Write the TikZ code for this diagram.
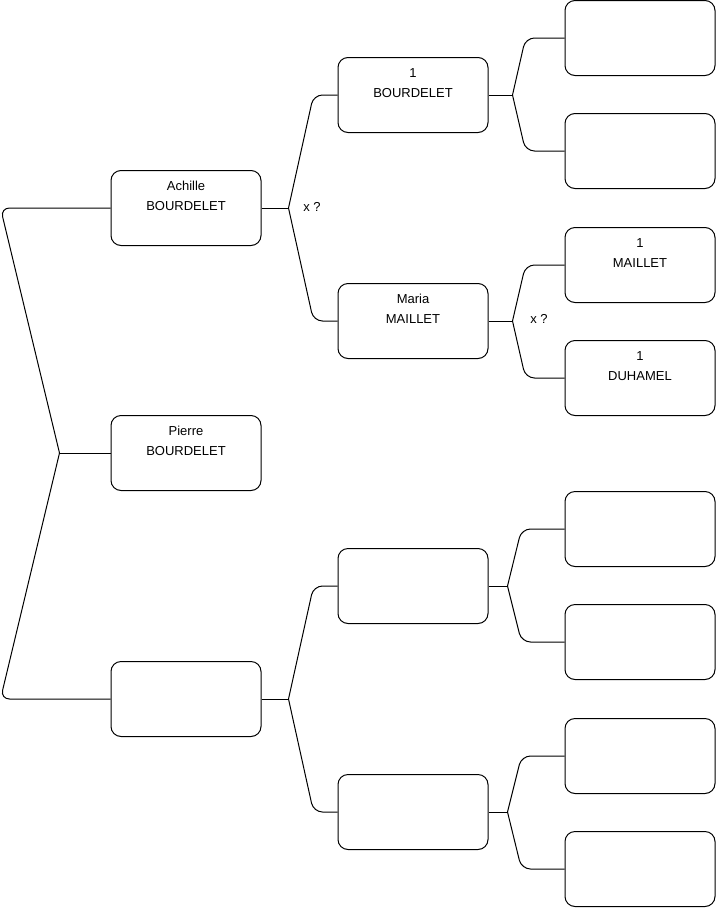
\documentclass[tikz,border=0pt]{standalone}
\usepackage{fontspec}
\setmainfont{Liberation Sans}
\begin{document}
\begin{tikzpicture}[x=1pt, y=-1pt,
    person/.style={draw, line width=1pt, rounded corners=10, minimum width=150, minimum height=75, inner sep=0},
    link/.style={line width=1pt},
    fork/.style={line width=1pt, rounded corners=9},
    guess/.style={font=\fontsize{13}{15}\selectfont}]
  \def\who#1#2{\parbox[c][75pt][t]{150pt}{\centering\fontsize{13}{20}\selectfont\rule{0pt}{20pt}#1\\#2}}
  \useasboundingbox (0,0) rectangle (716,908);

  % generation 1
  \node[person] (pierre) at (186,453) {\who{Pierre}{BOURDELET}};
  \node[person] (achille) at (186,208) {\who{Achille}{BOURDELET}};
  \node[person] (mere) at (186,699) {};

  % generation 2
  \node[person] (gpp) at (413,95) {\who{1}{BOURDELET}};
  \node[person] (maria) at (413,321) {\who{Maria}{MAILLET}};
  \node[person] (gpm) at (413,586) {};
  \node[person] (gmm) at (413,812) {};

  % generation 3
  \foreach \n/\y in {a1/38, a2/151, c1/529, c2/642, d1/756, d2/869}
    \node[person] (\n) at (640,\y) {};
  \node[person] (b1) at (640,265) {\who{1}{MAILLET}};
  \node[person] (b2) at (640,378) {\who{1}{DUHAMEL}};

  % parents of pierre
  \draw[link] (pierre.west) -- ++(-51,0) coordinate (j0);
  \draw[fork] (j0) -- ([xshift=-110]achille.west) -- (achille.west);
  \draw[fork] (j0) -- ([xshift=-110]mere.west) -- (mere.west);

  % the other forks
  \foreach \c/\o/\s/\u/\d in {achille/27/24/gpp/maria, mere/27/24/gpm/gmm,
      gpp/24/39/a1/a2, maria/24/39/b1/b2, gpm/19/43/c1/c2, gmm/19/43/d1/d2}
  {
    \draw[link] (\c.east) -- ++(\o,0) coordinate (j);
    \draw[fork] (j) -- ([xshift=-\s]\u.west) -- (\u.west);
    \draw[fork] (j) -- ([xshift=-\s]\d.west) -- (\d.west);
  }

  % unsure links
  \node[guess] (q1) at (312,207) {x ?};
  \node[guess] (q2) at (539,319) {x ?};
\end{tikzpicture}
\end{document}
